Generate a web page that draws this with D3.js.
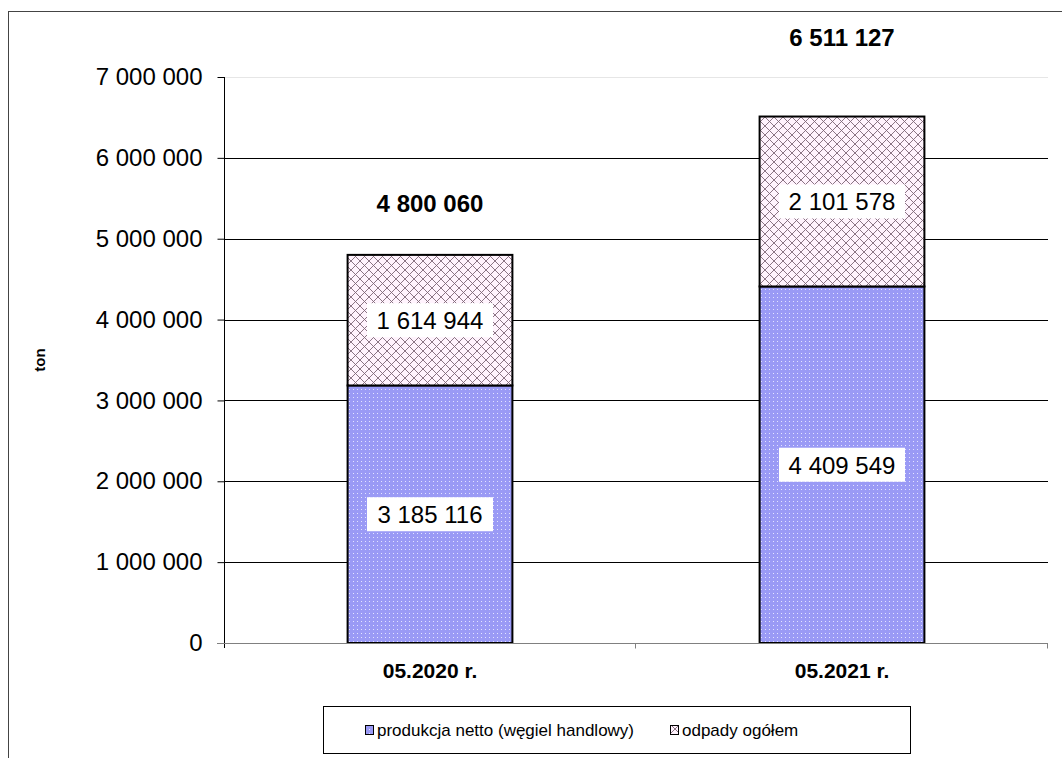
<!DOCTYPE html>
<html>
<head>
<meta charset="utf-8">
<script src="https://cdn.jsdelivr.net/npm/d3@7"></script>
<style>
  body { margin: 0; background: #fff; }
  text { font-family: "Liberation Sans", Arial, sans-serif; }
</style>
</head>
<body>
<script>
// chart values
const categories = ['05.2020 r.', '05.2021 r.']
const netto = [3185116, 4409549]
const odpady = [1614944, 2101578]
const totals = [4800060, 6511127]
const totalLabelAt = [5440000, 7500000] // where excel parked the total labels
const yTicks = [0, 1000000, 2000000, 3000000, 4000000, 5000000, 6000000, 7000000]
const seriesNames = ['produkcja netto (węgiel handlowy)', 'odpady ogółem']

let width = 1062
let height = 758
let plotLeft = 224, plotRight = 1048, plotTop = 77, plotBottom = 643

let fmt = (v) => d3.format(',')(v).replace(/,/g, ' ')

let svg = d3.select('body').append('svg').attr('width', width).attr('height', height)

// patterns
let defs = svg.append('defs')
let dots = defs.append('pattern').attr('id', 'dots')
    .attr('patternUnits', 'userSpaceOnUse').attr('width', 4).attr('height', 4)
dots.append('rect').attr('width', 4).attr('height', 4).attr('fill', '#9a9af5')
dots.append('rect').attr('x', 1).attr('y', 1).attr('width', 1).attr('height', 1).attr('fill', '#e4e4ff')

let hatch = defs.append('pattern').attr('id', 'hatch')
    .attr('patternUnits', 'userSpaceOnUse').attr('width', 9).attr('height', 9)
hatch.append('rect').attr('width', 9).attr('height', 9).attr('fill', '#fff3fd')
hatch.append('path').attr('d', 'M0,0 L9,9 M9,0 L0,9')
    .attr('stroke', '#7e6676').attr('stroke-width', 0.9).attr('fill', 'none')

// outer frame (cropped off on right/bottom)
svg.append('rect').attr('x', 8.5).attr('y', 11.5).attr('width', 1100).attr('height', 800)
   .attr('fill', 'none').attr('stroke', '#444').attr('stroke-width', 1)

let x = d3.scaleBand().domain(categories).range([plotLeft, plotRight]).paddingInner(0.6).paddingOuter(0.3)
let y = d3.scaleLinear().domain([0, 7000000]).range([plotBottom, plotTop])

// gridlines
svg.append('g').selectAll('line').data(yTicks.filter(d => d > 0)).enter().append('line')
   .attr('x1', plotLeft).attr('x2', plotRight)
   .attr('y1', d => Math.round(y(d)) + 0.5).attr('y2', d => Math.round(y(d)) + 0.5)
   .attr('stroke', d => d == 7000000 ? '#e6e6e6' : '#000').attr('stroke-width', 1)

// y axis
let yAxis = d3.axisLeft(y).tickValues(yTicks).tickFormat(fmt).tickSize(7).tickPadding(15)
let ya = svg.append('g').attr('transform', 'translate(' + (plotLeft + 0.5) + ',0)').call(yAxis)
ya.select('.domain').remove()
ya.append('line').attr('x1', 0).attr('x2', 0).attr('y1', plotTop).attr('y2', plotBottom + 5).attr('stroke', '#000')
ya.selectAll('.tick line').attr('stroke', '#000')
ya.selectAll('.tick text').attr('font-size', 24).attr('fill', '#000')
   .style('font-family', '"Liberation Sans", Arial, sans-serif')

// stacked bars
let stackData = categories.map((c, i) => ({ cat: c, netto: netto[i], odpady: odpady[i] }))
let stack = d3.stack().keys(['netto', 'odpady'])(stackData)
let fills = ['url(#dots)', 'url(#hatch)']

stack.forEach((layer, li) => {
  svg.append('g').selectAll('rect').data(layer).enter().append('rect')
     .attr('x', d => x(d.data.cat))
     .attr('y', d => y(d[1]))
     .attr('width', x.bandwidth())
     .attr('height', d => y(d[0]) - y(d[1]))
     .attr('fill', fills[li])
     .attr('stroke', '#000').attr('stroke-width', 2)
})

// x axis baseline + category separator ticks
let xa = svg.append('g').attr('transform', 'translate(0,' + (plotBottom + 0.5) + ')')
xa.append('line').attr('x1', plotLeft - 7).attr('x2', plotRight).attr('stroke', '#808080')
xa.selectAll('line.sep').data(categories).enter().append('line')
  .attr('class', 'sep')
  .attr('x1', (d, i) => plotLeft + x.step() * (i + 1) - 0.5)
  .attr('x2', (d, i) => plotLeft + x.step() * (i + 1) - 0.5)
  .attr('y1', 0).attr('y2', 5).attr('stroke', '#808080')

// category labels
svg.append('g').selectAll('text').data(categories).enter().append('text')
   .attr('x', d => x(d) + x.bandwidth() / 2)
   .attr('y', plotBottom + 35)
   .attr('text-anchor', 'middle').attr('font-size', 21).attr('font-weight', 'bold')
   .text(d => d)

// segment value labels with white boxes
stack.forEach((layer) => {
  let g = svg.append('g').selectAll('g').data(layer).enter().append('g')
     .attr('transform', d => 'translate(' + (x(d.data.cat) + x.bandwidth() / 2) + ',' + ((y(d[0]) + y(d[1])) / 2) + ')')
  g.append('rect').attr('x', -63).attr('y', -17).attr('width', 126).attr('height', 34).attr('fill', '#fff')
  g.append('text').attr('text-anchor', 'middle').attr('dy', 9).attr('font-size', 24)
   .text(d => fmt(d[1] - d[0]))
})

// totals
svg.append('g').selectAll('text').data(categories).enter().append('text')
   .attr('x', d => x(d) + x.bandwidth() / 2)
   .attr('y', (d, i) => y(totalLabelAt[i]) + 9)
   .attr('text-anchor', 'middle').attr('font-size', 24).attr('font-weight', 'bold')
   .text((d, i) => fmt(totals[i]))

// y title
svg.append('text').attr('transform', 'translate(45,360) rotate(-90)')
   .attr('text-anchor', 'middle').attr('font-size', 15).attr('font-weight', 'bold').text('ton')

// legend
let lg = svg.append('g')
lg.append('rect').attr('x', 323.5).attr('y', 706.5).attr('width', 587).attr('height', 47)
  .attr('fill', '#fff').attr('stroke', '#000')
let legX = [365, 670]
seriesNames.forEach((n, i) => {
  lg.append('rect').attr('x', legX[i] + 0.5).attr('y', 725.5).attr('width', 8).attr('height', 9)
    .attr('fill', fills[i]).attr('stroke', '#000')
  lg.append('text').attr('x', legX[i] + 12).attr('y', 736).attr('font-size', 17).text(n)
})
</script>
</body>
</html>
